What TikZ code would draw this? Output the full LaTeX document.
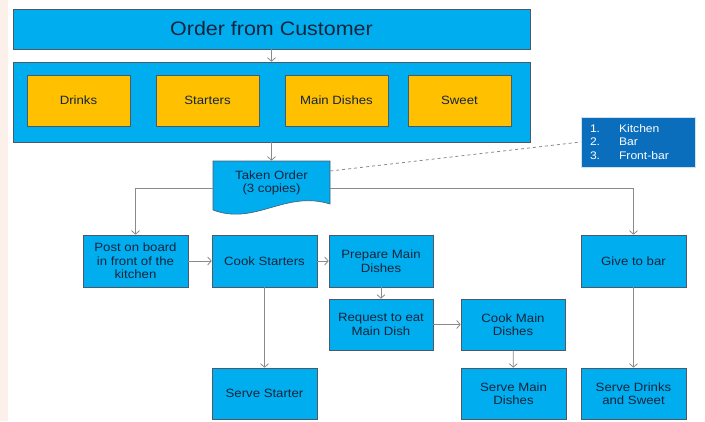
\documentclass[tikz,border=0pt]{standalone}
\usepackage{fontspec}
\setmainfont[FakeStretch=1.1]{Liberation Sans}
\usepackage{tikz}
\usetikzlibrary{arrows.meta, calc, positioning}
\definecolor{boxblue}{HTML}{00AEEF}
\definecolor{boxyellow}{HTML}{FFC000}
\definecolor{noteblue}{HTML}{0A6EBD}
\definecolor{edgegray}{HTML}{4A5A6A}
\definecolor{linegray}{HTML}{8A8A8A}
\definecolor{textnavy}{HTML}{14243C}
\definecolor{peach}{HTML}{FCF1EA}
\tikzstyle{step box} = [draw=edgegray, fill=boxblue, line width=0.6pt, minimum width=105pt, minimum height=52pt, inner sep=2pt, align=center, text=textnavy, font=\fontsize{12}{13.5}\selectfont]
\tikzstyle{menu item} = [draw=edgegray, fill=boxyellow, line width=0.6pt, minimum width=103pt, minimum height=51pt, text=textnavy, font=\fontsize{12}{13.5}\selectfont]
\tikzstyle{arrow} = [draw=linegray, line width=0.8pt, -{Straight Barb[length=3.5pt,width=8pt]}]

\begin{document}
\begin{tikzpicture}[x=1pt, y=-1pt]
            \useasboundingbox (0,0) rectangle (705,421);
            \fill [peach] (0,0) rectangle (8,421);

            % order and menu
            \node [step box, minimum width=517pt, minimum height=40pt, font=\fontsize{19.5}{22}\selectfont] at (271.5,29) (order) {Order from Customer};
            \node [step box, minimum width=517pt, minimum height=80pt] at (271.5,102) (menu) {};
            \node [menu item] at (78.5,100.5) (drinks) {Drinks};
            \node [menu item] at (207.5,100.5) (starters) {Starters};
            \node [menu item] at (336.5,100.5) (maindish) {Main Dishes};
            \node [menu item] at (459.5,100.5) (sweet) {Sweet};

            % taken order (document shape)
            \filldraw [fill=boxblue, draw=edgegray, line width=0.6pt] (213,161) -- (330,161) -- (330,204) .. controls (285,190) and (255,226) .. (213,210) -- cycle;
            \node [step box, draw=none, fill=none, minimum width=117pt, minimum height=44pt] at (271.5,183) (taken) {Taken Order\\(3 copies)};

            \node [fill=noteblue, draw=white!80!noteblue, minimum width=114pt, minimum height=50pt, text=white, font=\fontsize{11}{13.5}\selectfont, align=left, text width=96pt, inner xsep=9pt, inner ysep=5pt] at (638,142) (note) {1.\hspace{19pt}Kitchen\\2.\hspace{19pt}Bar\\3.\hspace{19pt}Front-bar};

            % kitchen side
            \node [step box] at (135.5,261) (post) {Post on board\\in front of the\\kitchen};
            \node [step box] at (264.5,261) (cookst) {Cook Starters};
            \node [step box, minimum width=104pt] at (381,261) (prepmain) {Prepare Main\\Dishes};
            \node [step box, minimum width=104pt, minimum height=51pt] at (381,324.5) (request) {Request to eat\\Main Dish};
            \node [step box, minimum width=104pt, minimum height=51pt] at (513,324.5) (cookmain) {Cook Main\\Dishes};
            \node [step box, minimum height=51pt] at (264.5,393.5) (servest) {Serve Starter};
            \node [step box, minimum height=51pt] at (513.5,393.5) (servemain) {Serve Main\\Dishes};

            % bar side
            \node [step box] at (633.5,261) (givebar) {Give to bar};
            \node [step box, minimum height=51pt] at (633.5,393.5) (servedrinks) {Serve Drinks\\and Sweet};

            \draw [arrow] (order) -- (menu);
            \draw [arrow] (menu) -- (taken);
            \draw [linegray, line width=0.8pt, dashed] ($(taken.east)+(0,-12)$) -- (note.west);
            \draw [arrow] ($(taken.west)+(0,5)$) -| (post.north);
            \draw [arrow] ($(taken.east)+(0,5)$) -| (givebar.north);
            \draw [arrow] (post) -- (cookst);
            \draw [arrow] (cookst) -- (prepmain);
            \draw [arrow] (prepmain) -- (request);
            \draw [arrow] (request) -- (cookmain);
            \draw [arrow] (cookmain) -- (servemain);
            \draw [arrow] (cookst) -- (servest);
            \draw [arrow] (givebar) -- (servedrinks);
\end{tikzpicture}
\end{document}
